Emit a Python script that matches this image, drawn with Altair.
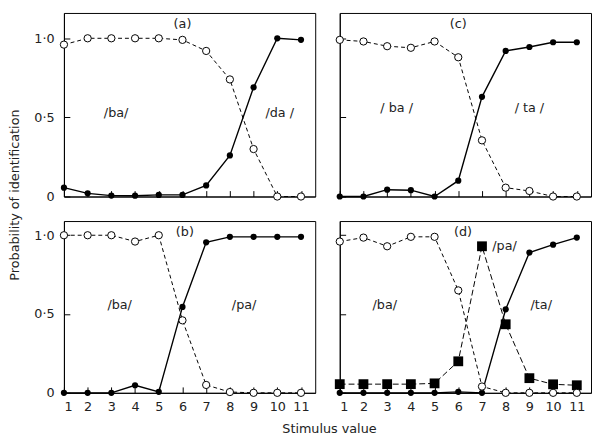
import altair as alt
import pandas as pd

# ---- data ----
stimulus = [1, 2, 3, 4, 5, 6, 7, 8, 9, 10, 11]

a_ba = [0.96, 1.0, 1.0, 1.0, 1.0, 0.99, 0.92, 0.74, 0.30, 0.0, 0.0]
a_da = [0.056, 0.02, 0.006, 0.005, 0.01, 0.01, 0.07, 0.26, 0.69, 1.0, 0.99]

c_ba = [0.99, 0.98, 0.95, 0.94, 0.98, 0.88, 0.355, 0.056, 0.035, 0.0, 0.0]
c_ta = [0.0, 0.0, 0.043, 0.04, 0.0, 0.10, 0.63, 0.92, 0.945, 0.975, 0.975]

b_ba = [1.0, 1.0, 1.0, 0.96, 1.0, 0.46, 0.05, 0.005, 0.0, 0.0, 0.0]
b_pa = [0.0, 0.0, 0.0, 0.048, 0.006, 0.545, 0.955, 0.99, 0.99, 0.99, 0.99]

d_ba = [0.96, 0.985, 0.93, 0.99, 0.99, 0.65, 0.04, 0.0, 0.0, 0.0, 0.0]
d_ta = [0.0, 0.0, 0.0, 0.0, 0.0, 0.006, 0.0, 0.53, 0.89, 0.94, 0.985]
d_pa = [0.055, 0.055, 0.055, 0.055, 0.06, 0.2, 0.93, 0.435, 0.093, 0.054, 0.048]

a_text = ["(a)", "/ba/", "/da /"]
a_tx = [6.0, 3.2, 10.1]
a_ty = [1.09, 0.53, 0.53]

c_text = ["(c)", "/ ba /", "/ ta /"]
c_tx = [6.0, 3.4, 9.0]
c_ty = [1.09, 0.56, 0.56]

b_text = ["(b)", "/ba/", "/pa/"]
b_tx = [6.1, 3.35, 8.6]
b_ty = [1.02, 0.56, 0.56]

d_text = ["(d)", "/pa/", "/ba/", "/ta/"]
d_tx = [6.2, 7.95, 2.9, 9.5]
d_ty = [1.02, 0.93, 0.56, 0.56]

y_ticks = [0, 0.5, 1.0]

FONT = "DejaVu Sans"
TXT = "#222222"


def panel(open_vals, filled_vals, square_vals, texts, tx, ty, ymax, height,
          show_x, show_y, x_title=None, y_title=None):
    rows = []
    for s, vals in (("open", open_vals), ("filled", filled_vals), ("square", square_vals)):
        if vals is None:
            continue
        for x, v in zip(stimulus, vals):
            rows.append({"x": x, "y": v, "s": s})
    df = pd.DataFrame(rows)
    lab = pd.DataFrame({"x": tx, "y": ty, "t": texts})

    xscale = alt.Scale(domain=[1, 11.6], nice=False, zero=False)
    yscale = alt.Scale(domain=[0, ymax], nice=False, zero=False)

    xaxis_kw = dict(values=stimulus, labels=show_x, tickSize={"expr": "-6"},
                    labelPadding=14, grid=False, labelFontSize=13,
                    domainColor="black", tickColor="black", labelColor=TXT,
                    labelFont=FONT, tickWidth=1)
    if x_title:
        xaxis_kw.update(title=x_title, titleX=270, titleY=36, titleBaseline="middle",
                        titleAlign="center", titleFontSize=13, titleFontWeight="normal",
                        titleFont=FONT, titleColor=TXT)
    else:
        xaxis_kw.update(title=None)
    yaxis_kw = dict(values=y_ticks, labels=show_y, tickSize={"expr": "-6"},
                    labelPadding=16, grid=False, labelFontSize=13,
                    labelExpr="datum.value == 1 ? '1·0' : (datum.value == 0.5 ? '0·5' : '0')",
                    domainColor="black", tickColor="black", labelColor=TXT,
                    labelFont=FONT, tickWidth=1)
    if y_title:
        yaxis_kw.update(title=y_title, titleX=-50, titleY=185, titleBaseline="middle",
                        titleAlign="center", titleAngle=270, titleFontSize=13,
                        titleFontWeight="normal", titleFont=FONT, titleColor=TXT)
    else:
        yaxis_kw.update(title=None)

    X = alt.X("x:Q", scale=xscale, axis=alt.Axis(**xaxis_kw))
    Y = alt.Y("y:Q", scale=yscale, axis=alt.Axis(**yaxis_kw))

    base = alt.Chart(df).encode(x=X, y=Y)
    layers = [
        base.transform_filter("datum.s == 'open'").mark_line(
            color="black", strokeWidth=1, strokeDash=[4, 3]),
        base.transform_filter("datum.s == 'filled'").mark_line(
            color="black", strokeWidth=1.4),
    ]
    if square_vals is not None:
        layers.append(base.transform_filter("datum.s == 'square'").mark_line(
            color="black", strokeWidth=1, strokeDash=[6, 3]))
        layers.append(base.transform_filter("datum.s == 'square'").mark_square(
            color="black", size=100, opacity=1))
    layers += [
        base.transform_filter("datum.s == 'filled'").mark_circle(
            color="black", size=40, opacity=1),
        base.transform_filter("datum.s == 'open'").mark_point(
            shape="circle", filled=True, fill="white", stroke="black",
            strokeWidth=1, size=55, opacity=1),
        alt.Chart(lab).mark_text(font=FONT, fontSize=13, color=TXT).encode(
            x=X, y=Y, text="t:N"),
    ]
    return alt.layer(*layers).properties(width=256, height=height)


pa = panel(a_ba, a_da, None, a_text, a_tx, a_ty, 1.16, 187, False, True,
           y_title="Probability of identification")
pc = panel(c_ba, c_ta, None, c_text, c_tx, c_ty, 1.16, 187, False, False)
pb = panel(b_ba, b_pa, None, b_text, b_tx, b_ty, 1.09, 175, True, True,
           x_title="Stimulus value")
pd_ = panel(d_ba, d_ta, d_pa, d_text, d_tx, d_ty, 1.09, 175, True, False)

chart = alt.concat(pa, pc, pb, pd_, columns=2, spacing=25, bounds="flush",
                   align="each").properties(
    padding={"left": 0, "top": 0, "right": 0, "bottom": 0},
    background="white",
).configure_view(stroke="black", strokeWidth=1)

chart.save("out.html", embed_options={"renderer": "svg", "actions": False})
